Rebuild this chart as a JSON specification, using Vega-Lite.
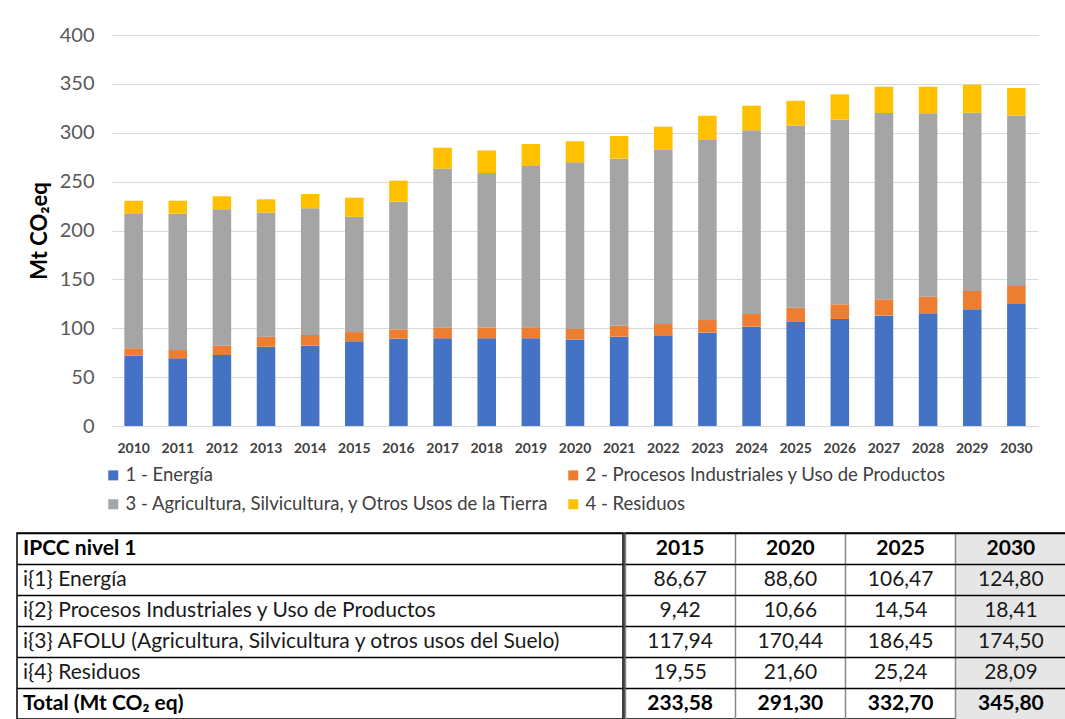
{
  "$schema": "https://vega.github.io/schema/vega-lite/v6.json",
  "background": "white",
  "autosize": {"type": "pad"},
  "padding": {"left": 16, "top": 25, "right": 1, "bottom": 0},
  "spacing": 77,
  "config": {
    "font": "Lato",
    "view": {"stroke": null},
    "locale": {"number": {"decimal": ",", "thousands": ".", "grouping": [3], "currency": ["", " €"]}}
  },
  "datasets": {
    "bars": [
      {"year": "2010", "cat": "1 - Energía", "value": 71.9},
      {"year": "2010", "cat": "2 - Procesos Industriales y Uso de Productos", "value": 7.6},
      {"year": "2010", "cat": "3 - Agricultura, Silvicultura, y Otros Usos de la Tierra", "value": 137.4},
      {"year": "2010", "cat": "4 - Residuos", "value": 13.6},
      {"year": "2011", "cat": "1 - Energía", "value": 69.2},
      {"year": "2011", "cat": "2 - Procesos Industriales y Uso de Productos", "value": 8.5},
      {"year": "2011", "cat": "3 - Agricultura, Silvicultura, y Otros Usos de la Tierra", "value": 139.5},
      {"year": "2011", "cat": "4 - Residuos", "value": 13.3},
      {"year": "2012", "cat": "1 - Energía", "value": 72.6},
      {"year": "2012", "cat": "2 - Procesos Industriales y Uso de Productos", "value": 9.5},
      {"year": "2012", "cat": "3 - Agricultura, Silvicultura, y Otros Usos de la Tierra", "value": 139.6},
      {"year": "2012", "cat": "4 - Residuos", "value": 13.3},
      {"year": "2013", "cat": "1 - Energía", "value": 81.1},
      {"year": "2013", "cat": "2 - Procesos Industriales y Uso de Productos", "value": 10.3},
      {"year": "2013", "cat": "3 - Agricultura, Silvicultura, y Otros Usos de la Tierra", "value": 126.8},
      {"year": "2013", "cat": "4 - Residuos", "value": 13.7},
      {"year": "2014", "cat": "1 - Energía", "value": 82.2},
      {"year": "2014", "cat": "2 - Procesos Industriales y Uso de Productos", "value": 10.9},
      {"year": "2014", "cat": "3 - Agricultura, Silvicultura, y Otros Usos de la Tierra", "value": 129.6},
      {"year": "2014", "cat": "4 - Residuos", "value": 14.6},
      {"year": "2015", "cat": "1 - Energía", "value": 86.67},
      {"year": "2015", "cat": "2 - Procesos Industriales y Uso de Productos", "value": 9.42},
      {"year": "2015", "cat": "3 - Agricultura, Silvicultura, y Otros Usos de la Tierra", "value": 117.94},
      {"year": "2015", "cat": "4 - Residuos", "value": 19.55},
      {"year": "2016", "cat": "1 - Energía", "value": 89.3},
      {"year": "2016", "cat": "2 - Procesos Industriales y Uso de Productos", "value": 9.6},
      {"year": "2016", "cat": "3 - Agricultura, Silvicultura, y Otros Usos de la Tierra", "value": 130.6},
      {"year": "2016", "cat": "4 - Residuos", "value": 21.5},
      {"year": "2017", "cat": "1 - Energía", "value": 89.7},
      {"year": "2017", "cat": "2 - Procesos Industriales y Uso de Productos", "value": 10.9},
      {"year": "2017", "cat": "3 - Agricultura, Silvicultura, y Otros Usos de la Tierra", "value": 162.7},
      {"year": "2017", "cat": "4 - Residuos", "value": 21.4},
      {"year": "2018", "cat": "1 - Energía", "value": 89.7},
      {"year": "2018", "cat": "2 - Procesos Industriales y Uso de Productos", "value": 11.2},
      {"year": "2018", "cat": "3 - Agricultura, Silvicultura, y Otros Usos de la Tierra", "value": 157.9},
      {"year": "2018", "cat": "4 - Residuos", "value": 23.1},
      {"year": "2019", "cat": "1 - Energía", "value": 89.7},
      {"year": "2019", "cat": "2 - Procesos Industriales y Uso de Productos", "value": 11.2},
      {"year": "2019", "cat": "3 - Agricultura, Silvicultura, y Otros Usos de la Tierra", "value": 165.1},
      {"year": "2019", "cat": "4 - Residuos", "value": 22.5},
      {"year": "2020", "cat": "1 - Energía", "value": 88.6},
      {"year": "2020", "cat": "2 - Procesos Industriales y Uso de Productos", "value": 10.66},
      {"year": "2020", "cat": "3 - Agricultura, Silvicultura, y Otros Usos de la Tierra", "value": 170.44},
      {"year": "2020", "cat": "4 - Residuos", "value": 21.6},
      {"year": "2021", "cat": "1 - Energía", "value": 91.4},
      {"year": "2021", "cat": "2 - Procesos Industriales y Uso de Productos", "value": 11.2},
      {"year": "2021", "cat": "3 - Agricultura, Silvicultura, y Otros Usos de la Tierra", "value": 170.9},
      {"year": "2021", "cat": "4 - Residuos", "value": 23.2},
      {"year": "2022", "cat": "1 - Energía", "value": 92.8},
      {"year": "2022", "cat": "2 - Procesos Industriales y Uso de Productos", "value": 11.5},
      {"year": "2022", "cat": "3 - Agricultura, Silvicultura, y Otros Usos de la Tierra", "value": 178.1},
      {"year": "2022", "cat": "4 - Residuos", "value": 23.8},
      {"year": "2023", "cat": "1 - Energía", "value": 95.5},
      {"year": "2023", "cat": "2 - Procesos Industriales y Uso de Productos", "value": 12.9},
      {"year": "2023", "cat": "3 - Agricultura, Silvicultura, y Otros Usos de la Tierra", "value": 184.2},
      {"year": "2023", "cat": "4 - Residuos", "value": 24.8},
      {"year": "2024", "cat": "1 - Energía", "value": 101.6},
      {"year": "2024", "cat": "2 - Procesos Industriales y Uso de Productos", "value": 13.0},
      {"year": "2024", "cat": "3 - Agricultura, Silvicultura, y Otros Usos de la Tierra", "value": 187.9},
      {"year": "2024", "cat": "4 - Residuos", "value": 25.2},
      {"year": "2025", "cat": "1 - Energía", "value": 106.47},
      {"year": "2025", "cat": "2 - Procesos Industriales y Uso de Productos", "value": 14.54},
      {"year": "2025", "cat": "3 - Agricultura, Silvicultura, y Otros Usos de la Tierra", "value": 186.45},
      {"year": "2025", "cat": "4 - Residuos", "value": 25.24},
      {"year": "2026", "cat": "1 - Energía", "value": 109.5},
      {"year": "2026", "cat": "2 - Procesos Industriales y Uso de Productos", "value": 15.0},
      {"year": "2026", "cat": "3 - Agricultura, Silvicultura, y Otros Usos de la Tierra", "value": 188.9},
      {"year": "2026", "cat": "4 - Residuos", "value": 25.9},
      {"year": "2027", "cat": "1 - Energía", "value": 112.9},
      {"year": "2027", "cat": "2 - Procesos Industriales y Uso de Productos", "value": 16.7},
      {"year": "2027", "cat": "3 - Agricultura, Silvicultura, y Otros Usos de la Tierra", "value": 190.6},
      {"year": "2027", "cat": "4 - Residuos", "value": 26.9},
      {"year": "2028", "cat": "1 - Energía", "value": 115.3},
      {"year": "2028", "cat": "2 - Procesos Industriales y Uso de Productos", "value": 17.0},
      {"year": "2028", "cat": "3 - Agricultura, Silvicultura, y Otros Usos de la Tierra", "value": 187.6},
      {"year": "2028", "cat": "4 - Residuos", "value": 27.2},
      {"year": "2029", "cat": "1 - Energía", "value": 119.4},
      {"year": "2029", "cat": "2 - Procesos Industriales y Uso de Productos", "value": 18.7},
      {"year": "2029", "cat": "3 - Agricultura, Silvicultura, y Otros Usos de la Tierra", "value": 182.4},
      {"year": "2029", "cat": "4 - Residuos", "value": 28.7},
      {"year": "2030", "cat": "1 - Energía", "value": 124.8},
      {"year": "2030", "cat": "2 - Procesos Industriales y Uso de Productos", "value": 18.41},
      {"year": "2030", "cat": "3 - Agricultura, Silvicultura, y Otros Usos de la Tierra", "value": 174.5},
      {"year": "2030", "cat": "4 - Residuos", "value": 28.09}
    ],
    "rowlabels": [
      {"row": "IPCC nivel 1"},
      {"row": "i{1} Energía"},
      {"row": "i{2} Procesos Industriales y Uso de Productos"},
      {"row": "i{3} AFOLU (Agricultura, Silvicultura y otros usos del Suelo)"},
      {"row": "i{4} Residuos"},
      {"row": "Total (Mt CO₂ eq)"}
    ],
    "header": [
      {"row": "IPCC nivel 1", "year": "2015"},
      {"row": "IPCC nivel 1", "year": "2020"},
      {"row": "IPCC nivel 1", "year": "2025"},
      {"row": "IPCC nivel 1", "year": "2030"}
    ],
    "table": [
      {"row": "i{1} Energía", "year": "2015", "value": 86.67},
      {"row": "i{1} Energía", "year": "2020", "value": 88.60},
      {"row": "i{1} Energía", "year": "2025", "value": 106.47},
      {"row": "i{1} Energía", "year": "2030", "value": 124.80},
      {"row": "i{2} Procesos Industriales y Uso de Productos", "year": "2015", "value": 9.42},
      {"row": "i{2} Procesos Industriales y Uso de Productos", "year": "2020", "value": 10.66},
      {"row": "i{2} Procesos Industriales y Uso de Productos", "year": "2025", "value": 14.54},
      {"row": "i{2} Procesos Industriales y Uso de Productos", "year": "2030", "value": 18.41},
      {"row": "i{3} AFOLU (Agricultura, Silvicultura y otros usos del Suelo)", "year": "2015", "value": 117.94},
      {"row": "i{3} AFOLU (Agricultura, Silvicultura y otros usos del Suelo)", "year": "2020", "value": 170.44},
      {"row": "i{3} AFOLU (Agricultura, Silvicultura y otros usos del Suelo)", "year": "2025", "value": 186.45},
      {"row": "i{3} AFOLU (Agricultura, Silvicultura y otros usos del Suelo)", "year": "2030", "value": 174.50},
      {"row": "i{4} Residuos", "year": "2015", "value": 19.55},
      {"row": "i{4} Residuos", "year": "2020", "value": 21.60},
      {"row": "i{4} Residuos", "year": "2025", "value": 25.24},
      {"row": "i{4} Residuos", "year": "2030", "value": 28.09},
      {"row": "Total (Mt CO₂ eq)", "year": "2015", "value": 233.58},
      {"row": "Total (Mt CO₂ eq)", "year": "2020", "value": 291.30},
      {"row": "Total (Mt CO₂ eq)", "year": "2025", "value": 332.70},
      {"row": "Total (Mt CO₂ eq)", "year": "2030", "value": 345.80}
    ]
  },
  "vconcat": [
    {
      "width": 1021,
      "height": 391,
      "data": {"name": "bars"},
      "mark": {"type": "bar"},
      "encoding": {
        "x": {
          "field": "year", "type": "nominal",
          "scale": {"range": [95, 1021], "paddingInner": 0.58, "paddingOuter": 0.28},
          "axis": {"title": null, "labelAngle": 0, "labelFontWeight": "bold", "labelFontSize": 14, "labelColor": "#404040", "ticks": false, "domainColor": "#d9d9d9", "labelPadding": 15}
        },
        "y": {
          "field": "value", "type": "quantitative", "stack": "zero",
          "scale": {"domain": [0, 400], "nice": false},
          "axis": {"offset": -95, "values": [0, 50, 100, 150, 200, 250, 300, 350, 400], "title": "Mt CO₂eq", "titleFontSize": 22, "titleFontWeight": "bold", "titleColor": "black", "titlePadding": 8, "labelFontSize": 20, "labelColor": "#595959", "gridColor": "#d9d9d9", "domain": false, "ticks": false, "labelPadding": 18}
        },
        "color": {
          "field": "cat", "type": "nominal",
          "scale": {
            "domain": ["1 - Energía", "2 - Procesos Industriales y Uso de Productos", "3 - Agricultura, Silvicultura, y Otros Usos de la Tierra", "4 - Residuos"],
            "range": ["#4472C4", "#ED7D31", "#A5A5A5", "#FFC000"]
          },
          "legend": {"orient": "none", "legendX": 87, "legendY": 431, "direction": "horizontal", "columns": 2, "title": null, "symbolType": "square", "symbolSize": 100, "symbolStrokeWidth": 0, "labelFontSize": 18.5, "labelColor": "#404040", "labelLimit": 800, "columnPadding": 14, "rowPadding": 10, "labelOffset": 3, "padding": 0}
        },
        "order": {"field": "cat", "sort": "ascending"}
      }
    },
    {
      "spacing": 0,
      "hconcat": [
        {
          "width": 606,
          "height": 186,
          "view": {"stroke": "black", "strokeWidth": 1.5},
          "data": {"name": "rowlabels"},
          "encoding": {
            "y": {
              "field": "row", "type": "nominal",
              "scale": {"type": "band", "paddingInner": 0, "paddingOuter": 0, "domain": ["IPCC nivel 1", "i{1} Energía", "i{2} Procesos Industriales y Uso de Productos", "i{3} AFOLU (Agricultura, Silvicultura y otros usos del Suelo)", "i{4} Residuos", "Total (Mt CO₂ eq)"]},
              "axis": {"title": null, "labels": false, "ticks": false, "domain": false, "grid": true, "bandPosition": 0, "gridColor": "black", "gridWidth": 1.5, "zindex": 1}
            },
            "x": {"datum": 0, "type": "quantitative", "scale": {"domain": [0, 1]}, "axis": null},
            "text": {"field": "row"}
          },
          "layer": [
            {
              "transform": [{"filter": "datum.row == 'IPCC nivel 1' || datum.row == 'Total (Mt CO₂ eq)'"}],
              "mark": {"type": "text", "align": "left", "dx": 6, "fontSize": 21, "fontWeight": "bold", "color": "black"}
            },
            {
              "transform": [{"filter": "datum.row != 'IPCC nivel 1' && datum.row != 'Total (Mt CO₂ eq)'"}],
              "mark": {"type": "text", "align": "left", "dx": 6, "fontSize": 21, "color": "#1a1a1a"}
            }
          ]
        },
        {
          "width": 441,
          "height": 186,
          "view": {"stroke": "black", "strokeWidth": 1.5},
          "encoding": {
            "x": {
              "field": "year", "type": "nominal",
              "scale": {"type": "band", "paddingInner": 0, "paddingOuter": 0, "domain": ["2015", "2020", "2025", "2030"]},
              "axis": {"title": null, "labels": false, "ticks": false, "domain": false, "grid": true, "bandPosition": 0, "gridColor": "#888888", "gridWidth": 1.5, "zindex": 1}
            },
            "y": {
              "field": "row", "type": "nominal",
              "scale": {"type": "band", "paddingInner": 0, "paddingOuter": 0, "domain": ["IPCC nivel 1", "i{1} Energía", "i{2} Procesos Industriales y Uso de Productos", "i{3} AFOLU (Agricultura, Silvicultura y otros usos del Suelo)", "i{4} Residuos", "Total (Mt CO₂ eq)"]},
              "axis": {"title": null, "labels": false, "ticks": false, "domain": false, "grid": true, "bandPosition": 0, "gridColor": "black", "gridWidth": 1.5, "zindex": 1}
            }
          },
          "layer": [
            {"data": {"name": "header"}, "transform": [{"filter": "datum.year == '2030'"}], "mark": {"type": "rect", "color": "#e7e6e6"}},
            {"data": {"name": "table"}, "transform": [{"filter": "datum.year == '2030'"}], "mark": {"type": "rect", "color": "#e7e6e6"}},
            {"data": {"name": "header"}, "mark": {"type": "text", "fontSize": 21, "fontWeight": "bold", "color": "black"}, "encoding": {"text": {"field": "year"}}},
            {"data": {"name": "table"}, "transform": [{"filter": "datum.row != 'Total (Mt CO₂ eq)'"}], "mark": {"type": "text", "fontSize": 21, "color": "#1a1a1a"}, "encoding": {"text": {"field": "value", "type": "quantitative", "format": ".2f"}}},
            {"data": {"name": "table"}, "transform": [{"filter": "datum.row == 'Total (Mt CO₂ eq)'"}], "mark": {"type": "text", "fontSize": 21, "fontWeight": "bold", "color": "black"}, "encoding": {"text": {"field": "value", "type": "quantitative", "format": ".2f"}}}
          ]
        }
      ]
    }
  ]
}
